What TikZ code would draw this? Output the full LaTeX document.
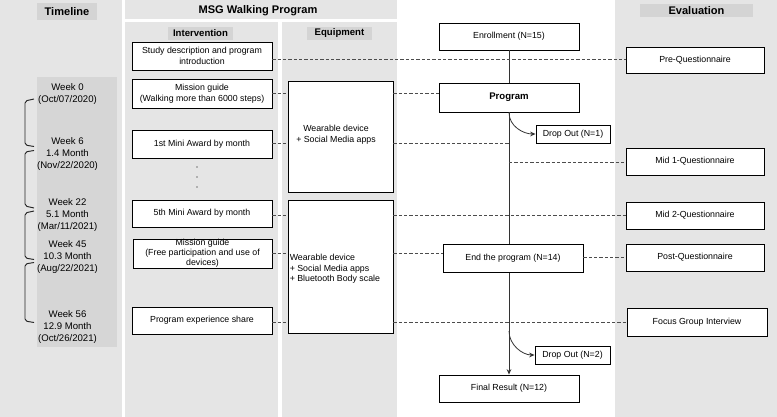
\documentclass[tikz,border=0pt]{standalone}
\usepackage{fontspec}
\setmainfont{Liberation Sans}
\usetikzlibrary{arrows.meta}
\definecolor{panel}{RGB}{229,229,229}
\definecolor{hdr}{RGB}{212,212,212}
\definecolor{strip}{RGB}{214,214,214}
% \mybox[options]{name}{x1}{y1}{x2}{y2}{text}
\newcommand\mybox[7][]{%
  \node[box, minimum width={(#5-#3)*0.75pt}, minimum height={(#6-#4)*0.75pt}, #1]
    (#2) at ({(#3+#5)/2},{(#4+#6)/2}) {#7};}
\begin{document}
\begin{tikzpicture}[x=0.75pt,y=-0.75pt,
  box/.style={draw=black, fill=white, line width=0.7pt, inner sep=0pt, align=center, font=\fontsize{6.6}{8}\selectfont},
  txt/.style={inner sep=0pt, align=center, font=\fontsize{6.6}{8}\selectfont},
  tl/.style={inner sep=0pt, align=center, font=\fontsize{7.2}{9}\selectfont},
  hd/.style={inner sep=0pt, font=\fontsize{8.3}{10}\selectfont\bfseries},
  subhd/.style={inner sep=0pt, font=\fontsize{7.2}{9}\selectfont\bfseries},
  dsh/.style={draw=black!70, line width=0.6pt, dash pattern=on 2.5pt off 1.5pt},
  flow/.style={draw=black!80, line width=0.6pt},
  brk/.style={draw=black!85, line width=0.7pt, rounded corners=1.5pt},
  tip/.style={-{Stealth[length=4pt,width=3.5pt]}}]
\useasboundingbox (0,0) rectangle (777,417);
\fill[white] (0,0) rectangle (777,417);
% background panels
\fill[panel] (0,0) rectangle (122,417);
\fill[hdr] (37,3) rectangle (97,20);
\fill[strip] (37,77) rectangle (117,347);
\fill[panel] (125,0) rectangle (397,19);
\fill[panel] (125,22) rectangle (278,417);
\fill[panel] (282,22) rectangle (397,417);
\fill[hdr] (168,27) rectangle (233,40);
\fill[hdr] (307,27) rectangle (372,40);
\fill[panel] (615,0) rectangle (777,417);
\fill[hdr] (640,4) rectangle (753,17);
% headers
\node[hd] (hTime) at (67,11.5) {Timeline};
\node[hd] (hMSG) at (258,11) {MSG Walking Program};
\node[subhd] (hInt) at (200.5,33.5) {Intervention};
\node[subhd] (hEq) at (339.5,33.5) {Equipment};
\node[hd] (hEval) at (696.5,11) {Evaluation};
% timeline
\node[tl] (t0) at (67.5,94) {Week 0\\(Oct/07/2020)};
\node[tl] (t6) at (67.5,154) {Week 6\\1.4 Month\\(Nov/22/2020)};
\node[tl] (t22) at (67.5,215) {Week 22\\5.1 Month\\(Mar/11/2021)};
\node[tl] (t45) at (67.5,257) {Week 45\\10.3 Month\\(Aug/22/2021)};
\node[tl] (t56) at (67.5,327) {Week 56\\12.9 Month\\(Oct/26/2021)};
\draw[brk] (34,99) -- (25,101) -- (25,145) -- (34,146.5);
\draw[brk] (34,150.5) -- (25,152) -- (25,206) -- (34,208);
\draw[brk] (34,211) -- (25,213) -- (25,258) -- (34,259.5);
\draw[brk] (34,262.5) -- (25,264) -- (25,321) -- (34,322.5);
% intervention boxes
\mybox{study}{132}{42}{272}{70}{Study description and program\\introduction}
\mybox{mis1}{132}{79}{272}{108}{Mission guide\\(Walking more than 6000 steps)}
\mybox{award1}{132}{130}{272}{158}{1st Mini Award by month}
\fill (197,167) circle (0.7);
\fill (197,177) circle (0.7);
\fill (197,187) circle (0.7);
\mybox{award5}{132}{200}{272}{227}{5th Mini Award by month}
\mybox[font=\fontsize{6.6}{7.4}\selectfont]{mis2}{133}{239}{272}{268}{Mission guide\\(Free participation and use of\\devices)}
\mybox{share}{132}{307}{272}{334}{Program experience share}
% equipment boxes
\mybox{eqA}{288}{81}{393}{192}{}
\node[txt] (eqAt) at (336,135) {Wearable device\\+ Social Media apps};
\mybox{eqB}{288}{200}{393}{333}{}
\node[txt, anchor=west, align=left] (eqBt) at (289.5,269) {Wearable device\\+ Social Media apps\\+ Bluetooth Body scale};
% flow
\mybox{enroll}{439}{23}{579}{50}{Enrollment (N=15)}
\mybox[font=\fontsize{7.2}{9}\selectfont\bfseries]{program}{439}{83}{579}{112}{Program}
\mybox{drop1}{536}{125}{610}{143}{Drop Out (N=1)}
\mybox{final}{439}{375}{579}{402}{Final Result (N=12)}
\mybox{drop2}{535}{346}{610}{364}{Drop Out (N=2)}
\coordinate (br2) at (509,331);
\draw[flow] (enroll.south) -- (program.north);
\draw[flow, tip] (program.south) -- (final.north);
\draw[flow, tip] (program.south) .. controls +(0,14) and +(-12,0) .. (drop1.west);
\draw[flow, tip] (br2) .. controls +(0,14) and +(-12,0) .. (drop2.west);
\mybox{endp}{443}{244}{583}{272}{End the program (N=14)}
% evaluation
\mybox{pre}{626}{47}{764}{73}{Pre-Questionnaire}
\mybox{mid1}{626}{148}{764}{175}{Mid 1-Questionnaire}
\mybox{mid2}{626}{202}{764}{229}{Mid 2-Questionnaire}
\mybox{post}{626}{244}{764}{271}{Post-Questionnaire}
\mybox{focus}{627}{308}{767}{336}{Focus Group Interview}
% dashed links
\draw[dsh] (study.east |- 0,59) -- (pre.west |- 0,59);
\draw[dsh] (mis1.east |- 0,93) -- (eqA.west |- 0,93);
\draw[dsh] (eqA.east |- 0,93) -- (program.west |- 0,93);
\draw[dsh] (award1.east |- 0,143) -- (eqA.west |- 0,143);
\draw[dsh] (eqA.east |- 0,143) -- (enroll.south |- 0,143);
\draw[dsh] (enroll.south |- 0,162) -- (mid1.west |- 0,162);
\draw[dsh] (award5.east |- 0,215) -- (eqB.west |- 0,215);
\draw[dsh] (eqB.east |- 0,215) -- (mid2.west |- 0,215);
\draw[dsh] (mis2.east |- 0,253) -- (eqB.west |- 0,253);
\draw[dsh] (eqB.east |- 0,253) -- (endp.west |- 0,253);
\draw[dsh] (endp.east |- 0,257) -- (post.west |- 0,257);
\draw[dsh] (share.east |- 0,322) -- (eqB.west |- 0,322);
\draw[dsh] (eqB.east |- 0,322) -- (focus.west |- 0,322);
\end{tikzpicture}
\end{document}
